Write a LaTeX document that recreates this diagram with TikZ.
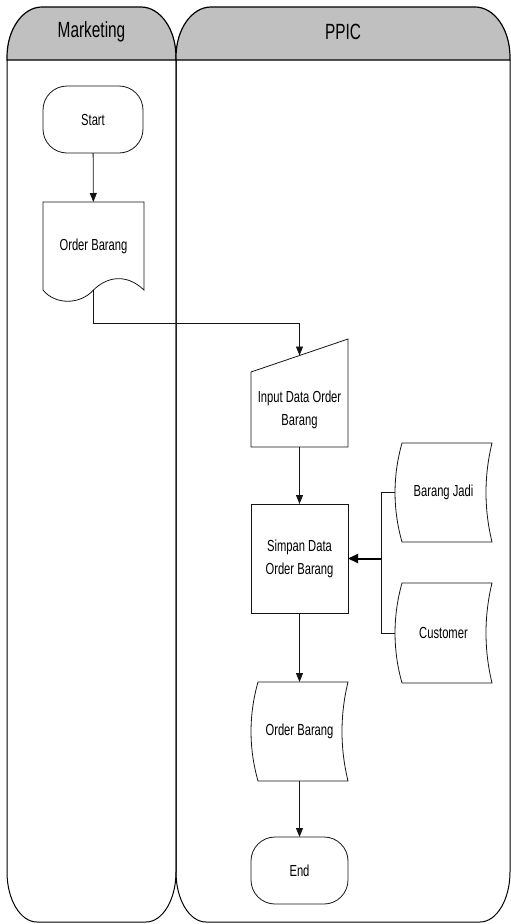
\documentclass[tikz,border=0pt]{standalone}
\usepackage{fontspec}
\setmainfont{Liberation Sans}[FakeStretch=0.7]
\usepackage{tikz}
\usetikzlibrary{arrows.meta,calc,positioning}
\definecolor{laneGray}{RGB}{192,192,192}
\definecolor{flowInk}{RGB}{20,20,20}
\newcommand{\swimlane}[4]{%
  \filldraw[fill=laneGray, line width=1.2pt]
    (#2,60) -- (#2,57) .. controls (#2,29.4) and (#2+15.7,7) .. (#2+35,7)
    -- (#3-35,7) .. controls (#3-15.7,7) and (#3,29.4) .. (#3,57) -- (#3,60) -- cycle;
  \draw[line width=1pt]
    (#2,60) -- (#2,872) .. controls (#2,899.6) and (#2+13.4,922) .. (#2+30,922)
    -- (#3-30,922) .. controls (#3-13.4,922) and (#3,899.6) .. (#3,872) -- (#3,60);
  \node[lanetitle] (#1) at ({(#2+#3)/2},32) {#4};
}
\newcommand{\storedshape}[1]{%
  \draw[shapeline]
    ($(#1.north west)+(7,0)$) -- (#1.north east)
    .. controls ($(#1.north east)+(-8,33)$) and ($(#1.south east)+(-8,-33)$) .. (#1.south east)
    -- ($(#1.south west)+(7,0)$)
    .. controls ($(#1.south west)+(-2.3,-33)$) and ($(#1.north west)+(-2.3,33)$) .. cycle;
}

\begin{document}
\begin{tikzpicture}[x=1pt,y=-1pt,
  lanetitle/.style={font=\fontsize{22}{26}\selectfont},
  shapeline/.style={draw=flowInk, line width=0.8pt},
  box/.style={minimum width=97pt, inner sep=0pt, outer sep=0pt, align=center,
    font=\fontsize{16}{23}\selectfont},
  terminal/.style={box, shapeline, rounded corners=24pt, minimum width=100pt, minimum height=67pt},
  flow/.style={draw=flowInk, line width=0.8pt, -{Triangle[length=9pt,width=7pt]}},
  bigflow/.style={draw=black, line width=2pt, -{Triangle[length=10pt,width=9pt]}},
  dataline/.style={draw=flowInk, line width=0.8pt}]
  \useasboundingbox (0,0) rectangle (511,924);
  \swimlane{mkthead}{7}{176}{Marketing}
  \swimlane{ppichead}{176}{510}{PPIC}

  \node[terminal] (start) at (93,119.5) {Start};
  \node[box, minimum width=101pt, minimum height=88pt] (order1) at (93.5,246) {Order Barang};
  \node[box, minimum height=75pt] (input) at (299.5,409.5) {Input Data Order\\Barang};
  \coordinate (inputtop) at (299.5,355.5);
  \node[box, shapeline, minimum height=109pt] (simpan) at (299.5,558.5) {Simpan Data\\Order Barang};
  \node[box, minimum height=99pt] (order2) at (299.5,731.5) {Order Barang};
  \node[terminal, minimum width=97pt] (finish) at (299.5,870.5) {End};
  \node[box, minimum height=99pt] (jadi) at (443.5,492.5) {Barang Jadi};
  \node[box, minimum height=100pt] (cust) at (443.5,633) {Customer};
  \coordinate (join) at (381,558.5);

  \draw[shapeline] (order1.south west) -- (order1.north west)
    -- (order1.north east) -- (order1.south east)
    .. controls ($(order1.south east)+(-19,-18)$) and ($(order1.south)+(12,-12)$) .. (order1.south)
    .. controls ($(order1.south)+(-13.5,15)$) and ($(order1.south west)+(12,15)$) .. (order1.south west);
  \draw[shapeline] (input.south west) -- (input.north west)
    -- ($(input.north east)+(0,-33)$) -- (input.south east) -- cycle;
  \storedshape{order2}
  \storedshape{jadi}
  \storedshape{cust}

  \draw[flow] (start) -- (order1);
  \draw[flow] (order1.south) -- ++(0,33) -| (inputtop);
  \draw[flow] (input) -- (simpan);
  \draw[flow] (simpan) -- (order2);
  \draw[flow] (order2) -- (finish);
  \draw[dataline] (jadi.west) -| (join);
  \draw[dataline] (cust.west) -| (join);
  \draw[bigflow] (join) -- (simpan.east);
\end{tikzpicture}
\end{document}
